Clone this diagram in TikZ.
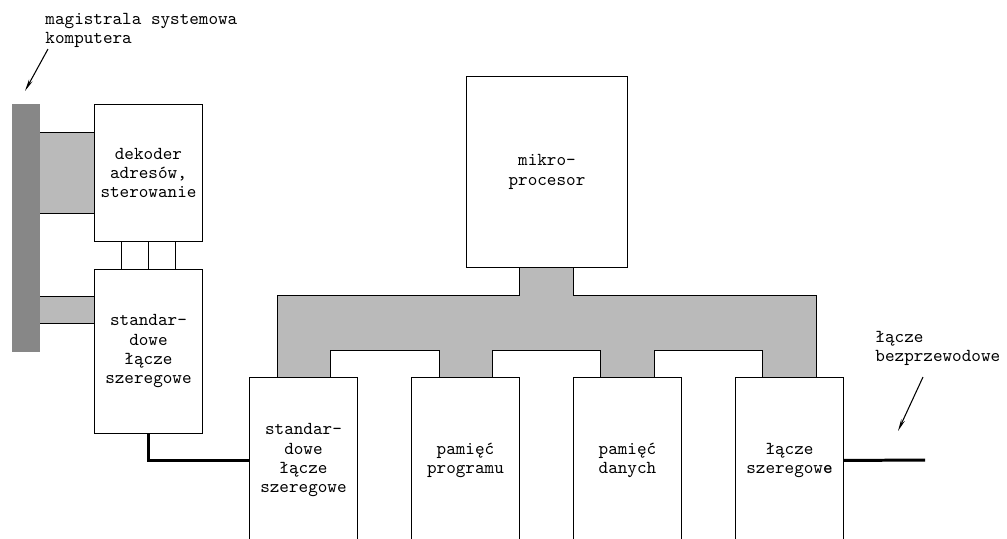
\documentclass[tikz,border=0pt]{standalone}
\usepackage{tikz}
\usetikzlibrary{arrows.meta,positioning}

\begin{document}
\begin{tikzpicture}[x=0.02cm, y=-0.02cm, line width=0.55pt,
    every node/.style={font=\ttfamily\fontsize{10.4}{11}\selectfont},
    blok/.style={draw, fill=white, align=center, inner sep=0pt, anchor=north west},
    jasny/.style={fill=black!27},
    linia/.style={line width=1.7pt},
    strzalka/.style={-{Stealth[length=0.24cm, width=0.08cm]}, line width=0.6pt}]
    \useasboundingbox (0,0) rectangle (1007,538);
    \clip (0,0) rectangle (1007,538);

    % magistrala komputera i zlacza
    \fill[black!47] (12,104) rectangle (40,352);
    \fill[jasny] (40,132) rectangle (94,213);
    \draw (40,132) -- (94,132) (40,213) -- (94,213);
    \fill[jasny] (40,296) rectangle (94,323);
    \draw (40,296) -- (94,296) (40,323) -- (94,323);

    \node[blok, minimum width=2.16cm, minimum height=2.74cm] (dekoder) at (94,104) {dekoder\\adresów,\\sterowanie};
    \node[blok, minimum width=2.16cm, minimum height=3.28cm] (std) at (94,269) {standar-\\dowe\\łącze\\szeregowe};
    \draw (121,241) rectangle (148,269) (148,241) rectangle (175,269);

    % szyna mikroprocesora
    \draw[jasny] (277,377) -- (277,295) -- (519,295) -- (519,267) -- (573,267) -- (573,295) -- (816,295) -- (816,377)
        -- (762,377) -- (762,350) -- (654,350) -- (654,377) -- (600,377) -- (600,350) -- (492,350) -- (492,377)
        -- (439,377) -- (439,350) -- (330,350) -- (330,377) -- cycle;

    \node[blok, minimum width=3.22cm, minimum height=3.82cm] (mikro) at (466,76) {mikro-\\procesor};

    \node[blok, minimum width=2.16cm, minimum height=3.32cm] (stdmk) at (249,377) {standar-\\dowe\\łącze\\szeregowe};
    \node[blok, minimum width=2.16cm, minimum height=3.32cm] (pamprog) at (411,377) {pamięć\\programu};
    \node[blok, minimum width=2.16cm, minimum height=3.32cm] (pamdan) at (573,377) {pamięć\\danych};
    \node[blok, minimum width=2.16cm, minimum height=3.32cm] (lacze) at (735,377) {łącze\\szeregow\textbf{e}};

    \draw[linia] (std.south) |- (stdmk.west);
    \coordinate (antena) at (925,460);
    \draw[linia] (lacze.east) -- (antena);

    % opisy
    \node[anchor=north west, align=left, inner sep=0pt] (opismag) at (45,13) {magistrala systemowa\\komputera};
    \node[anchor=north west, align=left, inner sep=0pt] (opisbez) at (875,331) {łącze\\bezprzewodowe};
    \coordinate (magA) at (48,49);
    \coordinate (magB) at (25,91);
    \draw[strzalka] (magA) -- (magB);
    \coordinate (bezA) at (923,377);
    \coordinate (bezB) at (898,431);
    \draw[strzalka] (bezA) -- (bezB);
\end{tikzpicture}
\end{document}
